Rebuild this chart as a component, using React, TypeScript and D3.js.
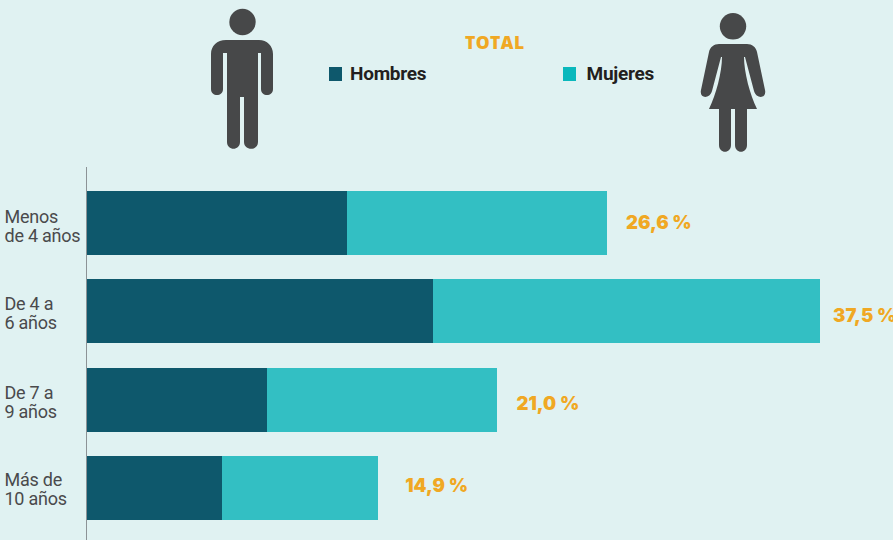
import React, { useEffect, useRef } from 'react';
import * as d3 from 'd3';

const categories = [
  ['Menos', 'de 4 años'],
  ['De 4 a', '6 años'],
  ['De 7 a', '9 años'],
  ['Más de', '10 años'],
];
const hombres = [13.3, 17.7, 9.2, 6.9];
const mujeres = [13.3, 19.8, 11.8, 8.0];
const totals = ['26,6 %', '37,5 %', '21,0 %', '14,9 %'];
const seriesNames = ['Hombres', 'Mujeres'];

const COLORS = {
  bg: '#e0f2f2',
  hombres: '#0e586c',
  mujeres: '#33bfc3',
  legendMujeres: '#0ab8bc',
  orange: '#f0a823',
  icon: '#474849',
  text: '#4a4a4c',
  legendText: '#231f20',
  axis: '#8c9396',
};

const width = 893;
const height = 540;

// hand placed in the original, so nudged per row
const totalNudge = [
  { dx: 19, dy: 6 },
  { dx: 13, dy: 11 },
  { dx: 19, dy: 10 },
  { dx: 27, dy: 4 },
];
const labelNudge = [0, -1, -1, -2];

const MAN =
  'M226 40 H259 C267 40 273 46 273 54 V89 C273 97 261 97 261 89 V53 H258 V142 C258 151 244 151 244 142 V97 H240 V142 C240 151 227 151 227 142 V53 H223 V89 C223 97 211 97 211 89 V54 C211 46 217 40 226 40 Z';
const WOMAN =
  'M719 44 H747 C752 44 756 47 757 52 L765 90 C767 99 756 99 754 91 L745 57 H744 C744 72 750 95 757 109 H747 V145 C747 154 735 154 735 145 V109 H731 V145 C731 154 719 154 719 145 V109 H709 C716 95 722 72 722 57 H721 L712 91 C710 99 699 99 701 90 L709 52 C710 47 714 44 719 44 Z';

const App = () => {
  const ref = useRef<SVGSVGElement>(null);

  useEffect(() => {
    const svg = d3.select(ref.current);
    svg.selectAll('*').remove(); // clear

    const x = d3.scaleLinear().domain([0, 37.5]).range([87, 820]);
    const y = d3
      .scaleBand<number>()
      .domain(d3.range(categories.length))
      .range([170, 541])
      .paddingInner(0.275)
      .paddingOuter(0.24);

    const stack = d3
      .stack<number>()
      .keys(['hombres', 'mujeres'])
      .value((i, key) => (key === 'hombres' ? hombres[i] : mujeres[i]));
    const layers = stack(d3.range(categories.length));

    svg
      .selectAll('g.layer')
      .data(layers)
      .join('g')
      .attr('class', 'layer')
      .attr('fill', (d) => (d.key === 'hombres' ? COLORS.hombres : COLORS.mujeres))
      .selectAll('rect')
      .data((d) => d)
      .join('rect')
      .attr('x', (d) => Math.round(x(d[0])))
      .attr('y', (d) => Math.round(y(d.data)!))
      .attr('width', (d) => Math.round(x(d[1])) - Math.round(x(d[0])))
      .attr('height', Math.round(y.bandwidth()));

    // axis line
    svg
      .append('line')
      .attr('x1', 86.5)
      .attr('x2', 86.5)
      .attr('y1', 167)
      .attr('y2', height)
      .attr('stroke', COLORS.axis)
      .attr('stroke-width', 1);

    // category labels
    const labels = svg
      .selectAll('text.cat')
      .data(categories)
      .join('text')
      .attr('class', 'cat')
      .attr('font-family', 'Roboto, sans-serif')
      .attr('font-size', 18)
      .attr('letter-spacing', -0.25)
      .attr('fill', COLORS.text);
    labels
      .selectAll('tspan')
      .data((d, i) => d.map((line, j) => ({ line, j, row: i })))
      .join('tspan')
      .attr('x', 4.5)
      .attr('y', (d) => y(d.row)! + y.bandwidth() / 2 + labelNudge[d.row] + d.j * 19)
      .text((d) => d.line);

    // totals
    svg
      .selectAll('text.total')
      .data(totals)
      .join('text')
      .attr('class', 'total')
      .attr('x', (d, i) => x(hombres[i] + mujeres[i]) + totalNudge[i].dx)
      .attr('y', (d, i) => y(i)! + y.bandwidth() / 2 + totalNudge[i].dy)
      .attr('font-family', 'Inter, sans-serif')
      .attr('font-weight', 900)
      .attr('font-size', 18.5)
      .attr('fill', COLORS.orange)
      .text((d) => d);

    // title
    svg
      .append('text')
      .attr('x', 465)
      .attr('y', 49)
      .attr('font-family', '"Open Sans", sans-serif')
      .attr('font-weight', 800)
      .attr('font-size', 17.5)
      .attr('letter-spacing', 0.4)
      .attr('fill', COLORS.orange)
      .text('TOTAL');

    // legend
    const legendX = [329, 563];
    const legend = svg
      .selectAll('g.legend')
      .data(seriesNames)
      .join('g')
      .attr('class', 'legend')
      .attr('transform', (d, i) => `translate(${legendX[i]},67)`);
    legend
      .append('rect')
      .attr('width', 13)
      .attr('height', 14)
      .attr('fill', (d, i) => (i === 0 ? COLORS.hombres : COLORS.legendMujeres));
    legend
      .append('text')
      .attr('x', (d, i) => (i === 0 ? 21 : 23.5))
      .attr('y', 13)
      .attr('font-family', 'Roboto, sans-serif')
      .attr('font-weight', 700)
      .attr('font-size', 19)
      .attr('letter-spacing', -0.25)
      .attr('fill', COLORS.legendText)
      .text((d) => d);

    // person icons
    const icons = svg.append('g').attr('fill', COLORS.icon);
    icons.append('circle').attr('cx', 242.5).attr('cy', 22).attr('r', 13.2);
    icons.append('path').attr('d', MAN);
    icons.append('circle').attr('cx', 733).attr('cy', 26.3).attr('r', 13.2);
    icons.append('path').attr('d', WOMAN);
  }, []);

  return (
    <svg
      ref={ref}
      width={width}
      height={height}
      style={{ position: 'absolute', left: 0, top: 0, background: COLORS.bg }}
    />
  );
};

export default App;
